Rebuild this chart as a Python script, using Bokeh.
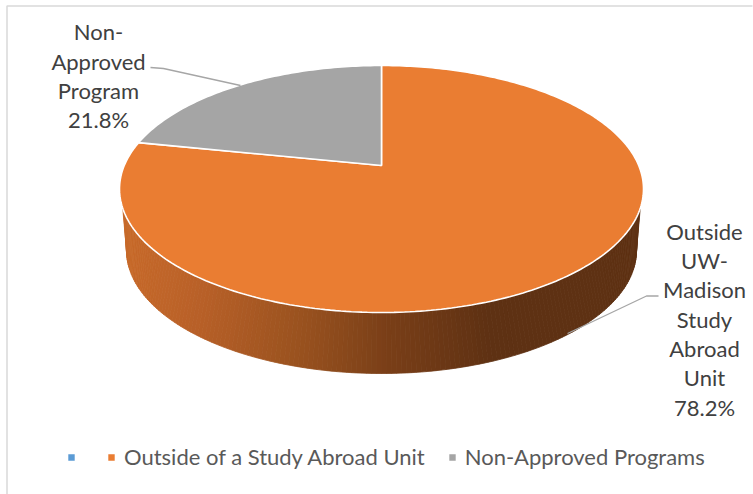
import numpy as np
from bokeh.embed import file_html
from bokeh.resources import INLINE
from bokeh.plotting import figure
from bokeh.models import Legend, LegendItem, Range1d
from bokeh.core.properties import value

categories = ["", "Outside of a Study Abroad Unit", "Non-Approved Programs"]
shares = [0.0, 78.2, 21.8]
colors = ["#5B9BD5", "#EA7D32", "#A5A5A5"]
label_lines_gray = ["Non-", "Approved", "Program", "21.8%"]
label_lines_orange = ["Outside", "UW-", "Madison", "Study", "Abroad", "Unit", "78.2%"]

W, H = 753, 494
CX, CY, RX, RY, K = 381.0, 188.5, 262.0, 123.5, 0.19
BCY, BRX, BRY = 250.0, 255.0, 123.0


def disk_to_screen(theta):
    """Clockwise angle from the back of the pie -> screen, with perspective."""
    u, v = np.sin(theta), np.cos(theta)
    d = 1 + K * v
    return CX + RX * u * np.sqrt(1 - K * K) / d, CY - RY * (v + K) / d


p = figure(width=W, height=H, output_backend="svg", toolbar_location=None,
           x_range=Range1d(0, W), y_range=Range1d(H, 0), min_border=0,
           outline_line_color=None, background_fill_color="white",
           border_fill_color="white")
p.styles = {"position": "absolute", "left": "0px", "top": "0px"}
p.xaxis.visible = False
p.yaxis.visible = False
p.grid.visible = False

# chart frame
p.line([6.5, 6.5, 752], [494, 5.5, 5.5], line_color="#D9D9D9", line_width=1.5)

# side wall, shaded strip by strip
grad_x = [120, 200, 300, 385, 490, 650]
grad_r = [201, 184, 153, 122, 94, 94]
grad_g = [107, 96, 82, 63, 49, 49]
grad_b = [43, 40, 31, 24, 19, 19]
n = 160
tt = np.linspace(np.radians(171), np.radians(9), n + 1)
bt = np.linspace(np.radians(180), 0, n + 1)
tx, ty = CX + RX * np.cos(tt), CY + RY * np.sin(tt)
bx, by = CX + BRX * np.cos(bt), BCY + BRY * np.sin(bt)
xs, ys, cols = [], [], []
for i in range(n):
    xs.append([tx[i], tx[i + 1], bx[i + 1], bx[i]])
    ys.append([ty[i], ty[i + 1], by[i + 1], by[i]])
    m = (tx[i] + bx[i]) / 2
    r, g, b = (int(np.interp(m, grad_x, c)) for c in (grad_r, grad_g, grad_b))
    cols.append(f"#{r:02x}{g:02x}{b:02x}")
p.patches(xs, ys, fill_color=cols, line_color=cols, line_width=0.8)

# top face, each slice from its share (clockwise, starting at the back)
fracs = np.cumsum([0] + shares) / 100 * 2 * np.pi
apex_x, apex_y = CX, CY - RY * K
renderers = []
for i, col in enumerate(colors):
    a0, a1 = fracs[i], fracs[i + 1]
    ang = np.linspace(a0, a1, max(2, int((a1 - a0) * 60)))
    sx, sy = disk_to_screen(ang)
    r = p.patch(np.r_[apex_x, sx], np.r_[apex_y, sy], fill_color=col,
                line_color="white", line_width=1.6)
    renderers.append(r)

# leader lines
p.line([150, 163, 240], [67, 68, 85], line_color="#A6A6A6", line_width=1.3)
p.line([658, 646, 567], [295.5, 295.5, 333], line_color="#A6A6A6", line_width=1.3)

# data labels
font = value("Lato")
ly = [31, 61, 90, 119]
p.text([98] * 4, ly, text=label_lines_gray, text_font=font, text_font_size="22px",
       text_color="#404040", text_align="center", text_baseline="middle")
ry = [231, 260, 289, 319, 348, 377, 407]
p.text([704] * 7, ry, text=label_lines_orange, text_font=font, text_font_size="22px",
       text_color="#404040", text_align="center", text_baseline="middle")

# legend
items = [LegendItem(label=value(c), renderers=[r]) for c, r in zip(categories, renderers)]
leg = Legend(items=items, orientation="horizontal", location=(66, 24), border_line_color=None,
             background_fill_alpha=0, label_text_font="Lato", label_text_font_size="22px",
             label_text_color="#595959", glyph_width=10, glyph_height=10, label_standoff=8,
             spacing=22, label_width=0, padding=0, margin=0, label_height=20)
p.add_layout(leg, "center")

open("out.html", "w").write(file_html(p, INLINE))
